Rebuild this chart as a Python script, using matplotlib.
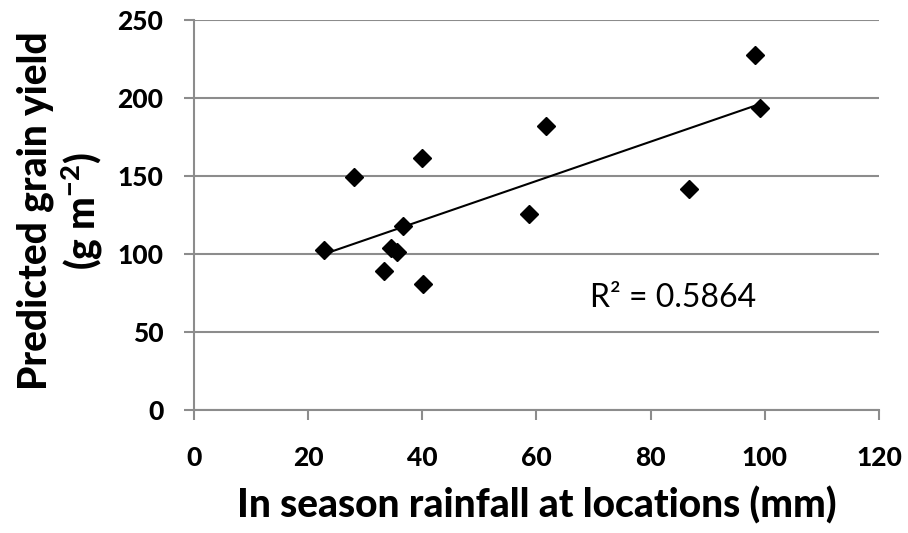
import numpy as np
import matplotlib
matplotlib.use("Agg")
import matplotlib.pyplot as plt

rainfall = [22.8, 28.1, 33.3, 34.5, 35.5, 36.6, 39.9, 40.2, 58.6, 61.6, 86.8, 98.2, 99.2]
yield_pred = [102.4, 149.1, 89.1, 104.1, 101.5, 118.0, 161.5, 80.5, 125.5, 182.3, 141.6, 227.7, 193.4]
x_ticks = [0, 20, 40, 60, 80, 100, 120]
y_ticks = [0, 50, 100, 150, 200, 250]
r2_label = "R² = 0.5864"

plt.rcParams['font.family'] = ['Lato', 'DejaVu Sans']
plt.rcParams['mathtext.fontset'] = 'custom'
plt.rcParams['mathtext.rm'] = 'Lato:black'
plt.rcParams['mathtext.bf'] = 'Lato:black'
plt.rcParams['mathtext.default'] = 'rm'

W = 'black'
fig = plt.figure(figsize=(9.08, 5.33), dpi=100)
ax = fig.add_axes([0.2137, 0.2308, 0.968 - 0.2137, 0.9625 - 0.2308])

x = np.array(rainfall)
y = np.array(yield_pred)
m, b = np.polyfit(x, y, 1)
xs = np.array([x.min(), x.max()])
ax.plot(xs, m * xs + b, color='black', lw=1.5, zorder=3)
ax.plot(x, y, linestyle='none', marker='D', ms=9, color='black', zorder=4)

ax.set_xlim(0, 120)
ax.set_ylim(0, 250)
ax.set_xticks(x_ticks)
ax.set_yticks(y_ticks)
ax.set_xticklabels([str(v) for v in x_ticks], fontsize=19, fontweight=W)
ax.set_yticklabels([str(v) for v in y_ticks], fontsize=19, fontweight=W)
ax.yaxis.grid(True, color='#8c8c8c', lw=1.5)
ax.set_axisbelow(True)
for s in ['top', 'right']:
    ax.spines[s].set_visible(False)
for s in ['left', 'bottom']:
    ax.spines[s].set_color('#8c8c8c')
    ax.spines[s].set_linewidth(1.5)
ax.tick_params(axis='both', color='#8c8c8c', width=1.5, length=7, direction='out')
ax.tick_params(axis='x', pad=19)
ax.tick_params(axis='y', pad=15)

ax.set_xlabel("In season rainfall at locations (mm)", fontsize=28, fontweight=W)
ax.set_ylabel("Predicted grain yield\n(g m$^{-2}$)", fontsize=28, fontweight=W, linespacing=1.1)
ax.xaxis.set_label_coords(0.5, -0.195)
ax.yaxis.set_label_coords(-0.132, 0.51)

ax.text(84, 72, r2_label, fontsize=23, ha='center', va='center')

fig.savefig("out.png", dpi=100)
